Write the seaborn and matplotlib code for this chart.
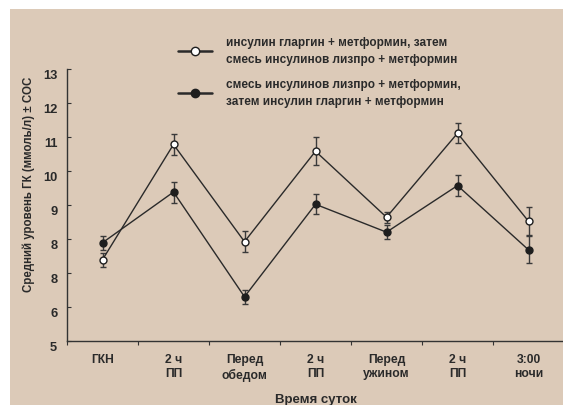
import numpy as np
import pandas as pd
import matplotlib
matplotlib.use("Agg")
import matplotlib.pyplot as plt
from matplotlib.lines import Line2D
from matplotlib.patches import Rectangle
import matplotlib.transforms as mtransforms
import seaborn as sns

# Time points of the day (two-line tick labels)
timepoints = ["ГКН", "2 ч\nПП", "Перед\nобедом", "2 ч\nПП", "Перед\nужином", "2 ч\nПП", "3:00\nночи"]

# Mean glucose (mmol/l) and standard error for each treatment sequence
glargine_first = [7.40, 10.79, 7.93, 10.59, 8.65, 11.12, 8.53]
glargine_first_sem = [0.20, 0.31, 0.30, 0.41, 0.16, 0.30, 0.41]
lispro_first = [7.90, 9.39, 6.31, 9.03, 8.21, 9.58, 7.69]
lispro_first_sem = [0.20, 0.31, 0.20, 0.30, 0.20, 0.30, 0.40]

series_names = [
    "инсулин гларгин + метформин, затем\nсмесь инсулинов лизпро + метформин",
    "смесь инсулинов лизпро + метформин,\nзатем инсулин гларгин + метформин",
]

ytick_values = [5, 6, 7, 8, 9, 10, 11, 12, 13]
ytick_labels = ["5", "6", "8", "8", "9", "10", "11", "12", "13"]

bg = "#dccab8"
ink = "#2a2a2a"

sns.set_theme(style="ticks")
plt.rcParams["font.family"] = ["Liberation Sans", "DejaVu Sans"]
plt.rcParams["font.weight"] = "bold"

pos = np.arange(len(timepoints))
df = pd.DataFrame({
    "pos": np.concatenate([pos, pos]),
    "glucose": glargine_first + lispro_first,
    "sem": glargine_first_sem + lispro_first_sem,
    "group": [series_names[0]] * len(pos) + [series_names[1]] * len(pos),
})

fig = plt.figure(figsize=(5.63, 4.06), dpi=100, facecolor="white")
fig.patches.append(Rectangle((10 / 563, 0), 1, 1 - 10 / 406, transform=fig.transFigure,
                             facecolor=bg, edgecolor="none", zorder=-10))
ax = fig.add_axes([67 / 563, 1 - 342.3 / 406, (564 - 67) / 563, (342.3 - 70.3) / 406])
ax.set_facecolor("none")

face_colors = ["white", "#1e1e1e"]

# error bars first so markers sit on top
for name in series_names:
    sub = df[df["group"] == name]
    ax.errorbar(sub["pos"], sub["glucose"], yerr=sub["sem"], fmt="none",
                ecolor="#3a3a3a", elinewidth=1.0, capsize=2.0, capthick=1.0, zorder=2)

sns.lineplot(data=df, x="pos", y="glucose", hue="group", hue_order=series_names,
             palette=[ink, ink], estimator=None, sort=False, linewidth=1.0,
             legend=False, ax=ax, zorder=3)

for name, fc in zip(series_names, face_colors):
    sub = df[df["group"] == name]
    ax.plot(sub["pos"], sub["glucose"], linestyle="none", marker="o", markersize=5,
            markerfacecolor=fc, markeredgecolor="#1e1e1e", markeredgewidth=1.0, zorder=4)

ax.set_xlim(-0.5, 6.5)
ax.set_ylim(5, 13)

for side in ["top", "right"]:
    ax.spines[side].set_visible(False)
for side in ["left", "bottom"]:
    ax.spines[side].set_color("#333333")
    ax.spines[side].set_linewidth(1.0)

# boundary ticks on x, labels centred on each time point
ax.set_xticks(np.arange(-0.5, 6.6, 1.0))
ax.set_xticklabels([])
ax.tick_params(axis="x", which="major", direction="out", length=3, width=0.8, color="#333333")
ax.set_xticks(pos, minor=True)
ax.set_xticklabels(timepoints, minor=True, fontsize=8.7, fontweight="bold", color=ink,
                   linespacing=1.25)
ax.tick_params(axis="x", which="minor", length=0, pad=8.5)

ax.set_yticks(ytick_values)
ax.set_yticklabels(ytick_labels, fontsize=9.3, fontweight="bold", color=ink)
ax.tick_params(axis="y", direction="in", length=3, width=0.8, color="#333333", pad=7)
shift = mtransforms.ScaledTranslation(0, -4 / 100, fig.dpi_scale_trans)
for lab in ax.get_yticklabels():
    lab.set_transform(lab.get_transform() + shift)

ax.set_xlabel("Время суток", fontsize=9.5, fontweight="bold", color=ink)
ax.xaxis.set_label_coords(0.5, -0.19)
ax.set_ylabel("Средний уровень ГК (ммоль/л) ± СОС", fontsize=8.3, fontweight="bold", color=ink)
ax.yaxis.set_label_coords(-0.064, 0.58)

handles = [
    Line2D([], [], color=ink, linewidth=1.8, marker="o", markersize=6,
           markerfacecolor=fc, markeredgecolor="#1e1e1e", markeredgewidth=1.0)
    for fc in face_colors
]
leg = fig.legend(handles, series_names, loc="upper left",
                 bbox_to_anchor=(172 / 563, 1 - 31 / 406), frameon=False,
                 prop={"size": 8.5, "weight": "bold"}, handlelength=2.9,
                 handletextpad=1.2, labelspacing=1.15, borderpad=0)
for t in leg.get_texts():
    t.set_color(ink)
    t.set_linespacing(1.55)

fig.savefig("out.png", dpi=100, facecolor=fig.get_facecolor())
